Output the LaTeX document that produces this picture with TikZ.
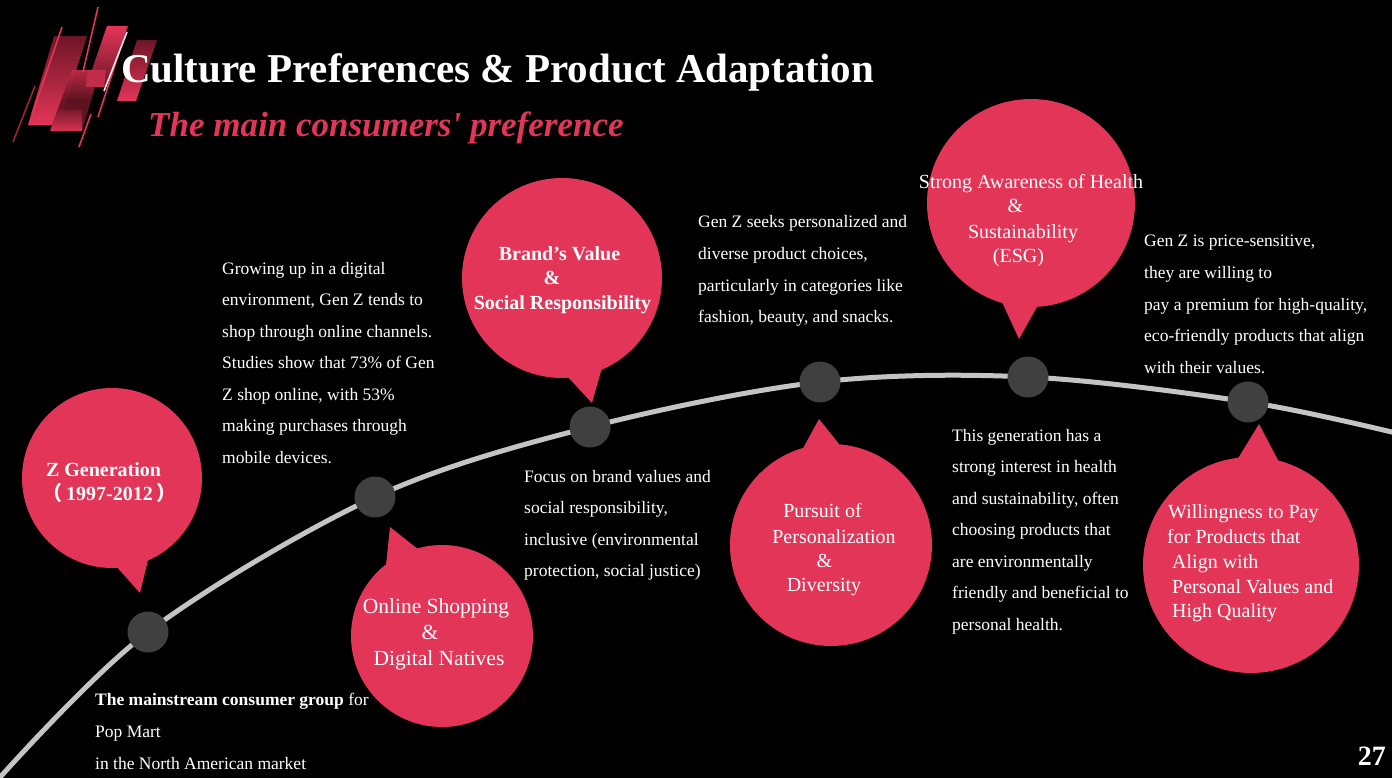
\documentclass[tikz,border=0pt]{standalone}
\usepackage{fontspec}
\setmainfont{Liberation Serif}
\newfontfamily\cjkfont{Noto Sans CJK SC}
\definecolor{crimson}{HTML}{E33558}
\definecolor{maroon}{HTML}{6E1626}
\definecolor{dotgray}{HTML}{404040}
\definecolor{track}{HTML}{C4C4C4}
\begin{document}
\begin{tikzpicture}[x=1pt,y=-1pt,
  bubble/.style={circle, fill=crimson, inner sep=0pt, minimum size=#1},
  tail/.style={fill=crimson},
  dot/.style={circle, fill=dotgray, inner sep=0pt, minimum size=41pt},
  body/.style={anchor=base west, inner sep=0pt, text=white, font=\fontsize{17.5}{20}\selectfont},
  btext/.style={anchor=base, inner sep=0pt, text=white, font=\fontsize{20}{24}\selectfont},
  bbold/.style={btext, font=\fontsize{20}{24}\selectfont\bfseries},
  logoline/.style={line width=1.6pt}]
% background and page frame
\fill[black] (0,0) rectangle (1392,778);
\useasboundingbox (0,0) rectangle (1392,778);

% ---- logo: slanted bars ----
\shade[top color=maroon, bottom color=crimson] (54,36)--(87,36)--(59,125)--(28,125)--cycle;
\shade[top color=crimson!70!maroon, bottom color=maroon, middle color=maroon!90!black, fill opacity=0.95] (72,70)--(100,70)--(82,131)--(50,131)--cycle;
\shade[bottom color=crimson, top color=maroon!85!crimson, fill opacity=0.9] (58,110)--(82,110)--(82,131)--(50,131)--cycle;
\shade[top color=crimson, bottom color=maroon] (107,26)--(128,26)--(106,87)--(86,87)--cycle;
\fill[crimson!85!black] (88,70)--(106,70)--(104,87)--(86,87)--cycle;
\shade[top color=maroon, bottom color=crimson] (137,40)--(157,40)--(136,101)--(117,101)--cycle;
\draw[crimson, logoline] (98,7)--(83,72);
\draw[crimson, logoline] (62,27)--(32,115);
\draw[maroon!60!crimson, logoline] (35,86)--(13,142);
\draw[crimson, logoline] (119,53)--(98,117);
\draw[crimson, logoline] (91,114)--(79,147);
\draw[white!85!gray, logoline] (127,32)--(104,91);

% ---- headings ----
\node[anchor=base west, inner sep=0pt, text=white, font=\fontsize{41}{48}\selectfont\bfseries] (title) at (121,83) {Culture Preferences \& Product Adaptation};
\node[anchor=base west, inner sep=0pt, text=crimson, font=\fontsize{35}{40}\selectfont\bfseries\itshape] (subtitle) at (148,137) {The main consumers\textquotesingle{} preference};

% ---- timeline track ----
\coordinate (p1) at (148,632);
\coordinate (p2) at (375,497);
\coordinate (p3) at (590,427);
\coordinate (p4) at (820,382);
\coordinate (p5) at (1028,377);
\coordinate (p6) at (1248,402);
\draw[track, line width=5pt] plot[smooth, tension=0.55] coordinates {(-6,784) (p1) (p2) (p3) (p4) (p5) (p6) (1400,434)};
\foreach \i in {1,...,6} \node[dot] (d\i) at (p\i) {};

% ---- speech bubbles ----
\node[bubble=180pt] (b1) at (112,478) {};
\fill[tail] (116,566) -- (140,593) -- (149,556) -- cycle;
\node[bubble=182pt] (b2) at (442,636) {};
\fill[tail] (386,565) -- (390,527) -- (419,550) -- cycle;
\node[bubble=200pt] (b3) at (562,278) {};
\fill[tail] (566,375) -- (592,403) -- (603,364) -- cycle;
\node[bubble=202pt] (b4) at (831,545) {};
\fill[tail] (801,452) -- (819,419) -- (843,449) -- cycle;
\node[bubble=208pt] (b5) at (1031,203) {};
\fill[tail] (1002,302) -- (1019,339) -- (1043,296) -- cycle;
\node[bubble=216pt] (b6) at (1251,565) {};
\fill[tail] (1237,460) -- (1259,424) -- (1279,462) -- cycle;

% ---- bubble captions ----
\foreach \x/\y/\t [count=\i] in {103.5/476/{Z Generation}, 109.5/500/{{\cjkfont （}\,1997-2012\,{\cjkfont ）}}}
  \node[bbold] (zg-\i) at (\x,\y) {\t};
\foreach \x/\y/\t [count=\i] in {436/613/{Online Shopping}, 430/639/\&, 439/665/{Digital Natives}}
  \node[btext, font=\fontsize{21.5}{26}\selectfont] (os-\i) at (\x,\y) {\t};
\foreach \x/\y/\t [count=\i] in {559.5/260/{Brand’s Value}, 552/284/\&, 562.5/309/{Social Responsibility}}
  \node[bbold] (bv-\i) at (\x,\y) {\t};
\foreach \x/\y/\t [count=\i] in {822.5/517/{Pursuit of}, 834/543/Personalization, 824.5/567/\&, 824/591/Diversity}
  \node[btext] (pp-\i) at (\x,\y) {\t};
\foreach \x/\y/\t [count=\i] in {1031/189/{Strong Awareness of Health}, 1015.5/213/\&, 1023/238/Sustainability, 1018.5/262/(ESG)}
  \node[btext] (sa-\i) at (\x,\y) {\t};
\foreach \x/\y/\t [count=\i] in {1168/518/{Willingness to Pay}, 1167/543/{for Products that}, 1172/568/{Align with}, 1172/593/{Personal Values and}, 1172/617/{High Quality}}
  \node[btext, anchor=base west] (wp-\i) at (\x,\y) {\t};

% ---- descriptive text ----
\foreach \t [count=\i from 0] in {Growing up in a digital, {environment, Gen Z tends to}, shop through online channels., Studies show that 73\% of Gen, {Z shop online, with 53\%}, making purchases through, mobile devices.}
  \node[body] (ta-\i) at (222,{274+31.5*\i}) {\t};
\foreach \t [count=\i from 0] in {Focus on brand values and, {social responsibility,}, inclusive (environmental, {protection, social justice)}}
  \node[body] (tb-\i) at (524,{482+31.5*\i}) {\t};
\foreach \t [count=\i from 0] in {Gen Z seeks personalized and, {diverse product choices,}, particularly in categories like, {fashion, beauty, and snacks.}}
  \node[body] (tc-\i) at (698,{228+31.5*\i}) {\t};
\foreach \t [count=\i from 0] in {This generation has a, strong interest in health, {and sustainability, often}, choosing products that, are environmentally, friendly and beneficial to, personal health.}
  \node[body] (td-\i) at (952,{441+31.5*\i}) {\t};
\foreach \t [count=\i from 0] in {{Gen Z is price-sensitive,}, they are willing to, {pay a premium for high-quality,}, eco-friendly products that align, with their values.}
  \node[body] (te-\i) at (1144,{247+31.5*\i}) {\t};
\foreach \t [count=\i from 0] in {{\textbf{The mainstream consumer group} for}, Pop Mart, in the North American market}
  \node[body] (tf-\i) at (95,{705+32*\i}) {\t};

% ---- page number ----
\node[anchor=base east, inner sep=0pt, text=white, font=\fontsize{28}{32}\selectfont\bfseries] (pagenum) at (1386,765) {27};
\end{tikzpicture}
\end{document}
